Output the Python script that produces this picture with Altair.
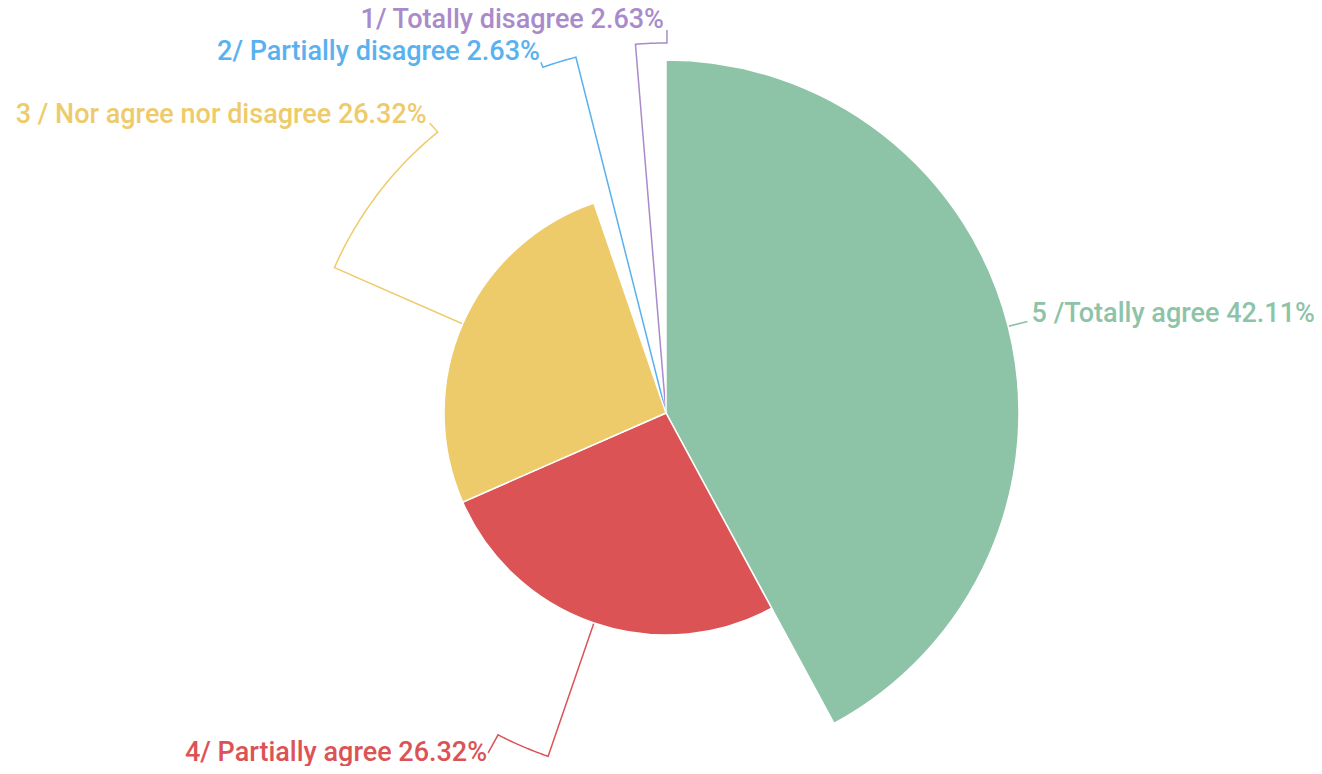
import altair as alt
import numpy as np
import pandas as pd

# ---- data ----
categories = ["5 /Totally agree", "4/ Partially agree", "3 / Nor agree nor disagree",
              "2/ Partially disagree", "1/ Totally disagree"]
counts = [16, 10, 10, 1, 1]
colors = ["#8DC3A7", "#DC5356", "#EECB6A", "#5AB1EF", "#A98BCB"]

# ---- label layout styles (leader line radius, end angle, tail, text offset, align) ----
line_radius = [373, 363, 362, 367, 370]
line_end_angle = [None, 207.55, 320.9, 340.4, 360.15]
tail = [(0, 0), (-10, 18), (-8, -9), (-2, -5), (0, -13)]
text_off = [(4, 1), (-1, 8), (-3, 0), (-1, -2), (-3, -2)]
aligns = ["left", "right", "right", "right", "right"]

W, H = 1306, 758
CX, CY = 658, 405  # pie centre inside the view

total = sum(counts)
cum = np.cumsum([0] + counts)
labels = [f"{c} {v / total * 100:.2f}%" for c, v in zip(categories, counts)]

pie = pd.DataFrame({
    "cat": categories, "count": counts,
    "start": cum[:-1], "end": cum[1:],
    "cx": 0, "cy": 0,
})

rows, trows = [], []
for i, cat in enumerate(categories):
    mid = (cum[i] + cum[i + 1]) / 2 / total * 360
    end = line_end_angle[i] if line_end_angle[i] is not None else mid
    R = line_radius[i]
    pts = [(0.0, 0.0)]
    for a in np.linspace(mid, end, 30):
        r = np.radians(a)
        pts.append((R * np.sin(r), R * np.cos(r)))
    lx, ly = pts[-1]
    ex, ey = lx + tail[i][0], ly - tail[i][1]
    pts.append((ex, ey))
    for k, (x, y) in enumerate(pts):
        rows.append({"cat": cat, "k": k, "x": x, "y": y})
    trows.append({"cat": cat, "label": labels[i],
                  "x": ex + text_off[i][0], "y": ey - text_off[i][1],
                  "align": aligns[i]})

lines = pd.DataFrame(rows)
texts = pd.DataFrame(trows)

xs = alt.Scale(domain=[-CX, W - CX], nice=False, zero=False)
ys = alt.Scale(domain=[CY - H, CY], nice=False, zero=False)
cs = alt.Scale(domain=categories, range=colors)

line_layer = alt.Chart(lines).mark_line(strokeWidth=1.5).encode(
    x=alt.X("x:Q", scale=xs, axis=None),
    y=alt.Y("y:Q", scale=ys, axis=None),
    color=alt.Color("cat:N", scale=cs, legend=None),
    detail="cat:N",
    order="k:Q",
)

arc_layer = alt.Chart(pie).mark_arc(stroke="white", strokeWidth=1.5).encode(
    x=alt.X("cx:Q", scale=xs, axis=None),
    y=alt.Y("cy:Q", scale=ys, axis=None),
    theta=alt.Theta("start:Q", scale=alt.Scale(domain=[0, total])),
    theta2="end:Q",
    radius=alt.Radius("count:Q", scale=alt.Scale(type="pow", exponent=0.88,
                                                 domain=[1, 16], range=[0, 353], zero=False)),
    color=alt.Color("cat:N", scale=cs, legend=None),
)

def text_layer(al):
    return alt.Chart(texts).transform_filter(alt.datum.align == al).mark_text(
        align=al, baseline="alphabetic", font="Roboto", fontSize=27, fontWeight=500
    ).encode(
        x=alt.X("x:Q", scale=xs, axis=None),
        y=alt.Y("y:Q", scale=ys, axis=None),
        text="label:N",
        color=alt.Color("cat:N", scale=cs, legend=None),
    )

chart = alt.layer(line_layer, arc_layer, text_layer("left"), text_layer("right")).properties(
    width=W, height=H, padding=0, autosize=alt.AutoSizeParams(type="none")
).configure_view(stroke=None)

chart.save("out.html", embed_options={"renderer": "svg", "actions": False})
